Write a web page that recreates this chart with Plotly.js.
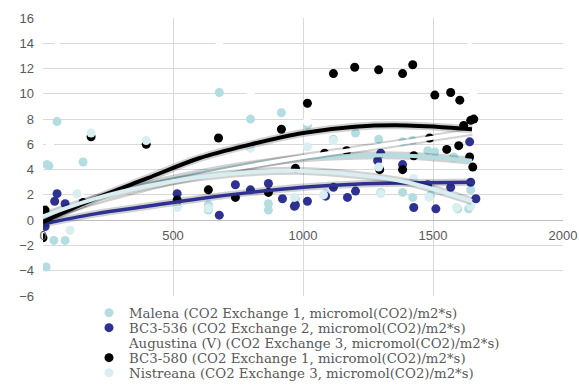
<!DOCTYPE html>
<html><head><meta charset="utf-8">
<script src="https://cdn.plot.ly/plotly-3.0.1.min.js"></script>
<style>html,body{margin:0;padding:0;background:#fff}#chart{width:579px;height:385px}</style>
</head><body><div id="chart"></div>
<script>
// Series names (legend order)
const seriesNames = [
  "Malena (CO2 Exchange 1, micromol(CO2)/m2*s)",
  "BC3-536 (CO2 Exchange 2, micromol(CO2)/m2*s)",
  "Augustina (V) (CO2 Exchange 3, micromol(CO2)/m2*s)",
  "BC3-580 (CO2 Exchange 1, micromol(CO2)/m2*s)",
  "Nistreana (CO2 Exchange 3, micromol(CO2)/m2*s)"
];
const seriesColors = ["#b4dde1", "#2e3192", "#ffffff", "#000000", "#d8eef0"];

// Scatter values
const malenaX = [15, 23, 54, 42, 85, 12, 154, 516, 636, 636, 678, 798, 867, 867, 917, 971, 1017, 1087, 1117, 1202, 1291, 1299, 1383, 1383, 1422, 1422, 1480, 1491, 1507, 1580, 1595, 1637, 1645];
const malenaY = [4.4, 4.3, 7.8, -1.6, -1.6, -3.7, 4.6, 1.1, 1.2, 0.8, 10.1, 8.0, 1.3, 0.8, 8.5, 1.7, 7.5, 2.1, 6.4, 6.9, 6.4, 2.2, 6.2, 2.2, 6.3, 1.8, 5.5, 2.0, 5.4, 5.0, 0.9, 0.9, 2.4];

const bc536X = [8, 45, 54, 85, 516, 678, 740, 798, 867, 921, 967, 971, 1017, 1087, 1117, 1171, 1202, 1287, 1299, 1383, 1426, 1480, 1511, 1568, 1641, 1645, 1665];
const bc536Y = [-0.5, 1.5, 2.1, 1.3, 2.1, 0.4, 2.8, 2.4, 2.9, 1.7, 1.1, 1.2, 1.5, 1.9, 2.6, 1.8, 2.3, 4.7, 5.3, 4.4, 1.0, 2.8, 0.9, 2.6, 6.2, 3.0, 1.7];

const augustinaX = [54, 27, 140, 678, 798, 921, 1017, 1480, 1642, 1653];
const augustinaY = [13.7, 5.9, 2.0, 13.8, 10.1, 12.5, 7.8, 8.9, 13.7, 9.9];

const bc580X = [0, 8, 20, 154, 185, 397, 516, 636, 675, 740, 867, 917, 971, 1017, 1083, 1117, 1168, 1199, 1291, 1295, 1383, 1383, 1422, 1426, 1487, 1507, 1553, 1568, 1599, 1603, 1618, 1641, 1645, 1653, 1657];
const bc580Y = [-1.4, 0.8, 0.2, 1.4, 6.6, 6.0, 1.6, 2.4, 6.5, 1.8, 2.2, 7.2, 4.1, 9.25, 5.3, 11.6, 5.5, 12.1, 11.9, 4.0, 11.6, 4.0, 12.3, 5.1, 6.5, 9.9, 5.6, 10.1, 5.9, 9.5, 7.5, 5.0, 7.9, 4.2, 8.0];

const nistreanaX = [104, 131, 185, 397, 516, 636, 798, 967, 1017, 1079, 1117, 1291, 1299, 1426, 1484, 1591, 1645];
const nistreanaY = [-0.8, 2.1, 6.9, 6.3, 1.0, 0.95, 5.7, 1.8, 5.8, 2.0, 6.3, 4.2, 2.1, 3.3, 1.8, 1.0, 1.1];

// Trendline values
const trendX = [0, 200, 400, 600, 800, 1000, 1200, 1400, 1650];
const malenaTrend = [0.0, 1.6, 2.8, 3.7, 4.4, 4.9, 5.1, 5.1, 4.7];
const bc536Trend = [-0.3, 0.5, 1.1, 1.7, 2.2, 2.6, 2.85, 2.95, 3.0];
const augustinaTrend = [0.2, 1.5, 2.6, 3.5, 4.3, 5.0, 5.6, 6.2, 7.0];
const bc580Trend = [-0.15, 1.7, 3.3, 4.9, 6.0, 6.9, 7.4, 7.5, 7.2];
const nistreanaTrend = [0.3, 1.7, 2.7, 3.4, 3.8, 3.9, 3.6, 3.0, 1.5];

// Axis tick values
const xTicks = [0, 500, 1000, 1500, 2000];
const yTicks = [-6, -4, -2, 0, 2, 4, 6, 8, 10, 12, 14, 16];

const xs = [malenaX, bc536X, augustinaX, bc580X, nistreanaX];
const ys = [malenaY, bc536Y, augustinaY, bc580Y, nistreanaY];
const trends = [malenaTrend, bc536Trend, augustinaTrend, bc580Trend, nistreanaTrend];
const legendIds = ["legend", "legend2", "legend3", "legend4", "legend5"];
const trendColors = ["#b4dde1", "#2e3192", "#ffffff", "#000000", "#d8eef0"];
const trendWidths = [4, 3.5, 4, 4, 4];

const traces = [];
for (let i = 0; i < 5; i++) {
  traces.push({
    type: "scatter", mode: "markers", name: seriesNames[i],
    x: xs[i], y: ys[i], legend: legendIds[i],
    marker: {size: 9, color: seriesColors[i]},
    hoverinfo: "skip"
  });
}
for (let i = 0; i < 5; i++) {
  traces.push({
    type: "scatter", mode: "lines", x: trendX, y: trends[i], showlegend: false,
    line: {color: "rgba(0,0,0,0.18)", width: trendWidths[i] + 4, shape: "spline"},
    hoverinfo: "skip"
  });
  traces.push({
    type: "scatter", mode: "lines", x: trendX, y: trends[i], showlegend: false,
    line: {color: trendColors[i], width: trendWidths[i], shape: "spline"},
    hoverinfo: "skip"
  });
}

const legRows = [313, 328, 343, 358, 373];
const plotTop = 18, plotBottom = 296, plotLeft = 43, plotRight = 563;
const layout = {
  width: 579, height: 385,
  margin: {l: plotLeft, r: 579 - plotRight, t: plotTop, b: 385 - plotBottom, pad: 0, autoexpand: false},
  paper_bgcolor: "#fff", plot_bgcolor: "#fff",
  showlegend: true,
  xaxis: {
    range: [0, 2000], tickvals: xTicks, showgrid: true, gridcolor: "#d9d9d9", gridwidth: 1,
    zeroline: false, showline: false, ticks: "", ticklabelstandoff: 6,
    anchor: "free", position: 6 / 22,
    tickfont: {family: "Liberation Sans, Arial, sans-serif", size: 13, color: "#595959"}
  },
  yaxis: {
    range: [-6, 16], tickvals: yTicks, showgrid: true, gridcolor: "#d9d9d9", gridwidth: 1,
    zeroline: true, zerolinecolor: "#bfbfbf", zerolinewidth: 1, showline: false, ticks: "",
    ticklabelstandoff: 8,
    tickfont: {family: "Liberation Sans, Arial, sans-serif", size: 13, color: "#595959"}
  }
};
for (let i = 0; i < 5; i++) {
  layout[legendIds[i]] = {
    x: (89 - plotLeft) / (plotRight - plotLeft), xanchor: "left",
    y: (plotBottom - legRows[i]) / (plotBottom - plotTop), yanchor: "middle",
    bgcolor: "rgba(0,0,0,0)", borderwidth: 0,
    font: {family: "DejaVu Serif, serif", size: 13.3, color: "#595959"}
  };
}
Plotly.newPlot("chart", traces, layout, {staticPlot: true, displayModeBar: false});
</script>
</body></html>
